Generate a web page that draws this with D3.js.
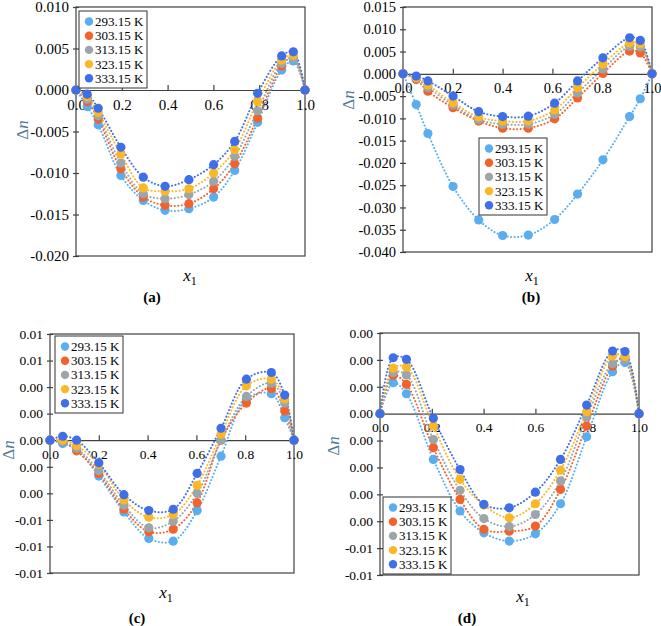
<!DOCTYPE html>
<html>
<head>
<meta charset="utf-8">
<script src="https://cdn.jsdelivr.net/npm/d3@7"></script>
<style>
  body { margin: 0; background: #fff; }
  svg text { font-family: "Liberation Serif", "Times New Roman", serif !important; }
  .axis text { fill: #000; }
  .axis line, .axis path { stroke: #404040; stroke-width: 1.2; }
</style>
</head>
<body>
<div id="chart"></div>
<script>
"use strict";

// series names (one per temperature)
var temps = ["293.15 K", "303.15 K", "313.15 K", "323.15 K", "333.15 K"];

// x1 mole fractions
var xA = [0, 0.049, 0.097, 0.196, 0.294, 0.389, 0.493, 0.601, 0.693, 0.793, 0.898, 0.949, 1];
var xB = [0, 0.053, 0.100, 0.201, 0.304, 0.400, 0.503, 0.609, 0.701, 0.803, 0.910, 0.953, 1];
var xC = [0, 0.052, 0.109, 0.200, 0.303, 0.405, 0.505, 0.603, 0.701, 0.805, 0.907, 0.962, 1];
var xD = [0, 0.051, 0.102, 0.206, 0.309, 0.401, 0.499, 0.600, 0.697, 0.798, 0.898, 0.946, 1];

// panel (a)
var a293 = [0, -0.0020, -0.0042, -0.0103, -0.0133, -0.0145, -0.0143, -0.0129, -0.0097, -0.0039, 0.0024, 0.0035, 0];
var a303 = [0, -0.0014, -0.0035, -0.0095, -0.0129, -0.0139, -0.0137, -0.0119, -0.0089, -0.0034, 0.0029, 0.0040, 0];
var a313 = [0, -0.0011, -0.0031, -0.0088, -0.0125, -0.0131, -0.0126, -0.0110, -0.0080, -0.0025, 0.0032, 0.0038, 0];
var a323 = [0, -0.0008, -0.0027, -0.0077, -0.0118, -0.0122, -0.0119, -0.0100, -0.0072, -0.0014, 0.0036, 0.0042, 0];
var a333 = [0, -0.0005, -0.0022, -0.0069, -0.0105, -0.0116, -0.0108, -0.0090, -0.0062, -0.0004, 0.0041, 0.0046, 0];

// panel (b)
var b293 = [0, -0.0069, -0.0134, -0.0253, -0.0328, -0.0363, -0.0362, -0.0327, -0.0270, -0.0193, -0.0096, -0.0056, 0];
var b303 = [0, -0.0013, -0.0039, -0.0076, -0.0106, -0.0122, -0.0122, -0.0101, -0.0054, 0.0001, 0.0051, 0.0047, 0];
var b313 = [0, -0.0010, -0.0031, -0.0070, -0.0103, -0.0113, -0.0113, -0.0091, -0.0043, 0.0011, 0.0062, 0.0060, 0];
var b323 = [0, -0.0008, -0.0025, -0.0065, -0.0097, -0.0106, -0.0106, -0.0081, -0.0031, 0.0022, 0.0069, 0.0067, 0];
var b333 = [0, -0.0005, -0.0016, -0.0050, -0.0085, -0.0096, -0.0095, -0.0066, -0.0016, 0.0036, 0.0081, 0.0075, 0];

// panel (c)
var c293 = [0, -0.00025, -0.0007, -0.0027, -0.0054, -0.0074, -0.0076, -0.0053, -0.0012, 0.0031, 0.0035, 0.0017, 0];
var c303 = [0, -0.0001, -0.0008, -0.0025, -0.0052, -0.0069, -0.0067, -0.0047, 0.0000, 0.0028, 0.0039, 0.0022, 0];
var c313 = [0, -0.0001, -0.0006, -0.0023, -0.0049, -0.0066, -0.0061, -0.0040, 0.0000, 0.0033, 0.0043, 0.0028, 0];
var c323 = [0, 0.0000, -0.0004, -0.0018, -0.0045, -0.0058, -0.0056, -0.0034, 0.00045, 0.0041, 0.0046, 0.0031, 0];
var c333 = [0, 0.0003, 0.0000, -0.0017, -0.0041, -0.0053, -0.0052, -0.0025, 0.0009, 0.0046, 0.0051, 0.0034, 0];

// panel (d)
var d293 = [0, 0.00115, 0.00074, -0.00170, -0.00362, -0.00443, -0.00474, -0.00447, -0.00335, -0.00086, 0.00156, 0.00190, 0];
var d303 = [0, 0.00143, 0.00109, -0.00127, -0.00319, -0.00430, -0.00437, -0.00418, -0.00282, -0.00046, 0.00177, 0.00210, 0];
var d313 = [0, 0.00153, 0.00144, -0.00096, -0.00285, -0.00390, -0.00420, -0.00375, -0.00250, -0.00012, 0.00186, 0.00200, 0];
var d323 = [0, 0.00169, 0.00174, -0.00046, -0.00244, -0.00340, -0.00387, -0.00335, -0.00210, 0.00007, 0.00215, 0.00213, 0];
var d333 = [0, 0.00208, 0.00202, -0.00017, -0.00208, -0.00337, -0.00350, -0.00292, -0.00170, 0.00032, 0.00233, 0.00231, 0];

// tick values and labels
var xTicks = [0, 0.2, 0.4, 0.6, 0.8, 1.0];
var xLabels = ["0.0", "0.2", "0.4", "0.6", "0.8", "1.0"];
var yTicksA = [0.010, 0.005, 0, -0.005, -0.010, -0.015, -0.020];
var yLabelsA = ["0.010", "0.005", "0.000", "-0.005", "-0.010", "-0.015", "-0.020"];
var yTicksB = [0.015, 0.010, 0.005, 0, -0.005, -0.010, -0.015, -0.020, -0.025, -0.030, -0.035, -0.040];
var yLabelsB = ["0.015", "0.010", "0.005", "0.000", "-0.005", "-0.010", "-0.015", "-0.020", "-0.025", "-0.030", "-0.035", "-0.040"];
var yTicksC = [0.008, 0.006, 0.004, 0.002, 0, -0.002, -0.004, -0.006, -0.008, -0.010];
var yLabelsC = ["0.01", "0.01", "0.00", "0.00", "0.00", "0.00", "0.00", "-0.01", "-0.01", "-0.01"];
var yTicksD = [0.003, 0.002, 0.001, 0, -0.001, -0.002, -0.003, -0.004, -0.005, -0.006];
var yLabelsD = ["0.00", "0.00", "0.00", "0.00", "0.00", "0.00", "0.00", "0.00", "-0.01", "-0.01"];

var colors = ["#5aaef0", "#f4622c", "#9aa6ab", "#fbb726", "#3e6ee8"];

// layout of the four panels (pixels)
var panels = [
  { x: xA, series: [a293, a303, a313, a323, a333], yTicks: yTicksA, yLabels: yLabelsA, font: 15,
    box: [76, 305, 7, 256], legend: [79, 11], xTitle: [190, 281], tag: "(a)", tagPos: [152, 302], dn: [22, 130] },
  { x: xB, series: [b293, b303, b313, b323, b333], yTicks: yTicksB, yLabels: yLabelsB, font: 14.5,
    box: [403, 652, 7, 252], legend: [479, 138], xTitle: [532, 281], tag: "(b)", tagPos: [531, 302], dn: [348, 100] },
  { x: xC, series: [c293, c303, c313, c323, c333], yTicks: yTicksC, yLabels: yLabelsC, font: 13.5,
    box: [50, 294, 334, 573], legend: [55, 336], xTitle: [166, 598], tag: "(c)", tagPos: [137, 623], dn: [8, 450] },
  { x: xD, series: [d293, d303, d313, d323, d333], yTicks: yTicksD, yLabels: yLabelsD, font: 13.5,
    box: [380, 639, 333, 575], legend: [383, 497], xTitle: [523, 602], tag: "(d)", tagPos: [467, 623], dn: [333, 446] }
];

var svg = d3.select("#chart").append("svg")
  .attr("width", 661)
  .attr("height", 626);

panels.forEach(function(p) {
  var left = p.box[0], right = p.box[1], top = p.box[2], bottom = p.box[3];
  var x = d3.scaleLinear().domain([0, 1]).range([left, right]);
  var y = d3.scaleLinear().domain([d3.min(p.yTicks), d3.max(p.yTicks)]).range([bottom, top]);

  var g = svg.append("g");

  // plot frame
  g.append("rect")
    .attr("x", left).attr("y", top)
    .attr("width", right - left).attr("height", bottom - top)
    .attr("fill", "none").attr("stroke", "#404040").attr("stroke-width", 1.2);

  // y axis with cross ticks
  var yAxis = d3.axisLeft(y).tickValues(p.yTicks)
    .tickFormat(function(d, i) { return p.yLabels[i]; })
    .tickSizeInner(3).tickSizeOuter(0).tickPadding(4);
  var ya = g.append("g").attr("class", "axis").attr("transform", "translate(" + left + ",0)").call(yAxis);
  ya.selectAll(".tick line").attr("x1", 3);
  ya.selectAll("text").style("font-size", p.font + "px");
  ya.select(".domain").remove();

  // x axis crossing at zero
  var xAxis = d3.axisBottom(x).tickValues(xTicks)
    .tickFormat(function(d, i) { return xLabels[i]; })
    .tickSizeInner(-5).tickSizeOuter(0).tickPadding(9);
  var xa = g.append("g").attr("class", "axis").attr("transform", "translate(0," + y(0) + ")").call(xAxis);
  xa.selectAll("text").style("font-size", p.font + "px");

  var line = d3.line()
    .x(function(d) { return x(d[0]); })
    .y(function(d) { return y(d[1]); })
    .curve(d3.curveCatmullRom.alpha(0.5));

  p.series.forEach(function(s, i) {
    g.append("path")
      .datum(d3.zip(p.x, s))
      .attr("d", line)
      .attr("fill", "none")
      .attr("stroke", colors[i])
      .attr("stroke-width", 2)
      .attr("stroke-linecap", "round")
      .attr("stroke-dasharray", "0.1,3.4");
  });

  p.series.forEach(function(s, i) {
    g.selectAll(null)
      .data(d3.zip(p.x, s))
      .enter().append("circle")
      .attr("cx", function(d) { return x(d[0]); })
      .attr("cy", function(d) { return y(d[1]); })
      .attr("r", 4.6)
      .attr("fill", colors[i]);
  });

  // legend
  var lg = g.append("g").attr("transform", "translate(" + p.legend[0] + "," + p.legend[1] + ")");
  lg.append("rect")
    .attr("width", 68).attr("height", 77)
    .attr("fill", "#fff").attr("stroke", "#333").attr("stroke-width", 1);
  temps.forEach(function(t, i) {
    var row = lg.append("g").attr("transform", "translate(0," + (10.5 + i * 14.2) + ")");
    row.append("circle").attr("cx", 10).attr("cy", 0).attr("r", 4.2).attr("fill", colors[i]);
    row.append("text").attr("x", 16).attr("y", 4.5)
      .style("font-size", "13px").text(t);
  });

  // axis titles
  var xt = g.append("text")
    .attr("x", p.xTitle[0]).attr("y", p.xTitle[1])
    .attr("text-anchor", "middle").style("font-size", "17px");
  xt.append("tspan").style("font-style", "italic").text("x");
  xt.append("tspan").attr("dy", 4).style("font-size", "12px").text("1");

  var yt = g.append("text")
    .attr("transform", "translate(" + p.dn[0] + "," + p.dn[1] + ") rotate(-90)")
    .attr("text-anchor", "middle").attr("dy", "0.35em")
    .style("font-size", "17px").attr("fill", "#4f7b93");
  yt.append("tspan").text("\u0394");
  yt.append("tspan").style("font-style", "italic").text("n");

  g.append("text")
    .attr("x", p.tagPos[0]).attr("y", p.tagPos[1])
    .attr("text-anchor", "middle")
    .style("font-size", "15px").style("font-weight", "bold")
    .text(p.tag);
});
</script>
</body>
</html>
